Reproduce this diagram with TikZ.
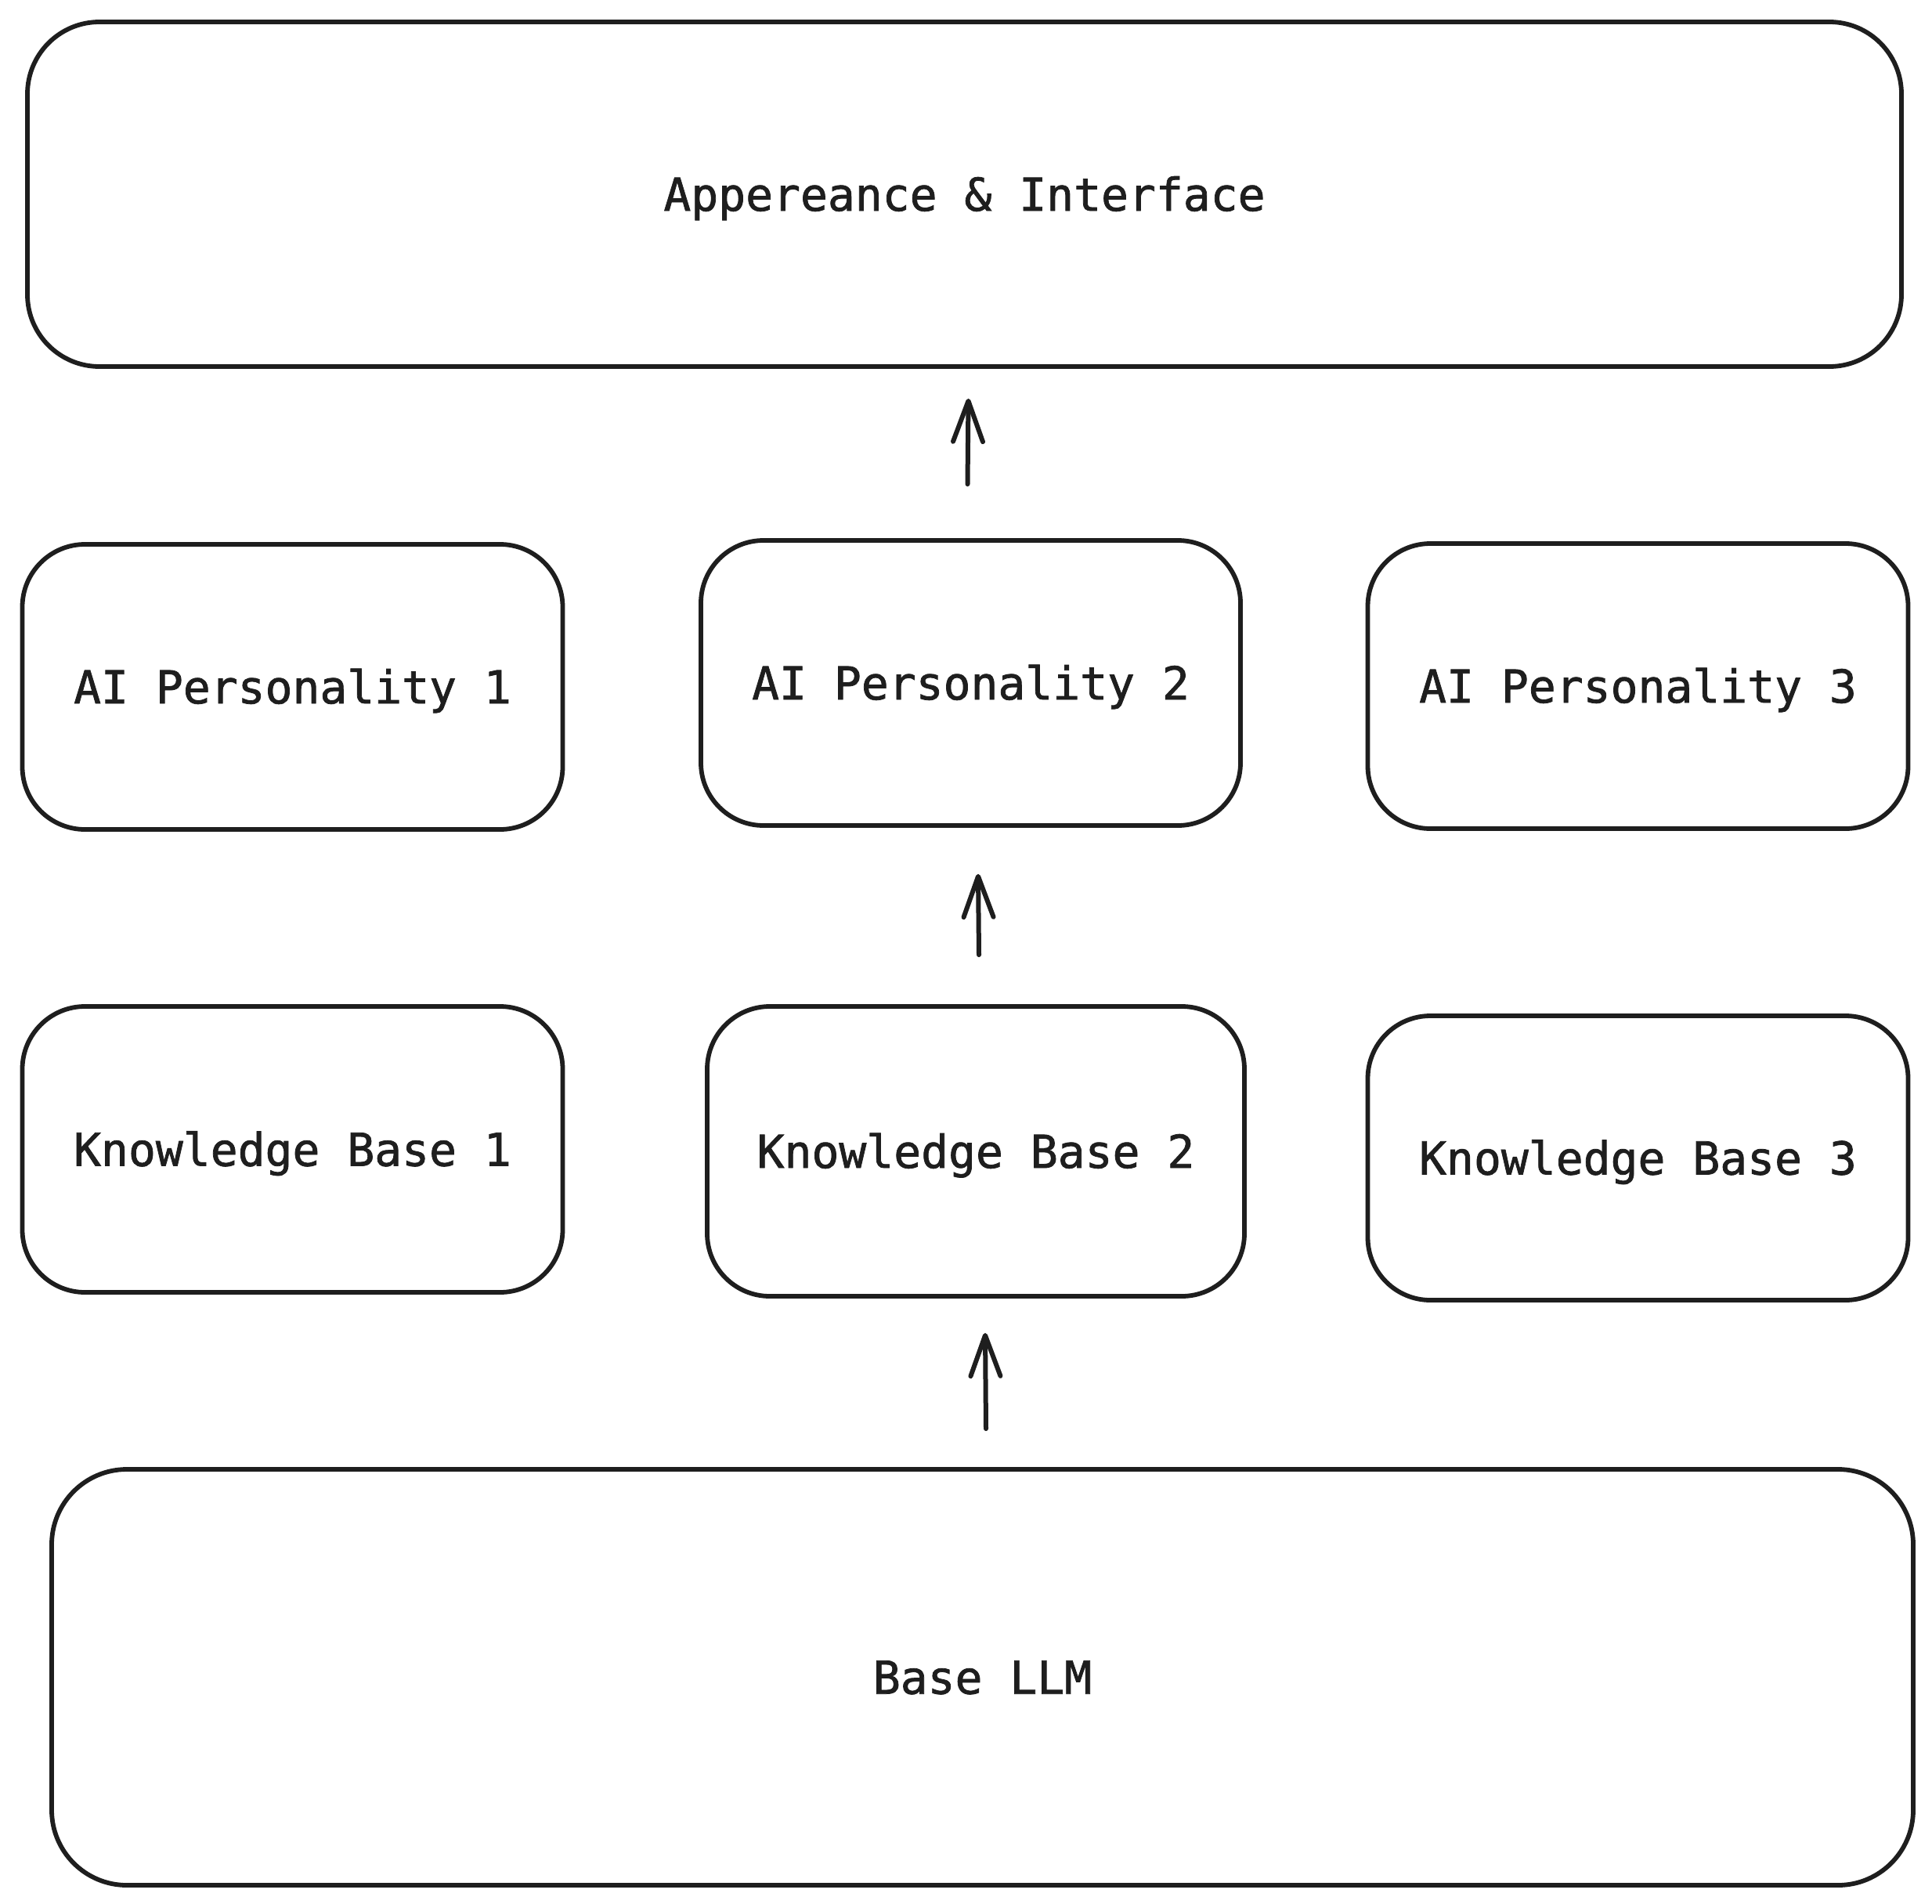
\documentclass[tikz,border=0pt]{standalone}
\usepackage{fontspec}
\setmonofont[FakeBold=1.3]{DejaVu Sans Mono}
\usetikzlibrary{arrows.meta,calc}
\definecolor{ink}{HTML}{1E1E1E}
\begin{document}
\begin{tikzpicture}[x=1pt,y=-1pt,
  box/.style={draw=ink, line width=2.9pt, rounded corners=40pt,
    minimum width=345pt, minimum height=182pt, inner sep=0pt,
    text height=21.1pt, text depth=0pt,
    font=\ttfamily\fontsize{29}{34}\selectfont, text=ink},
  arr/.style={draw=ink, line width=3pt, line cap=round,
    -{Straight Barb[length=26pt,width=19pt,line cap=round,line join=round]}}]
\useasboundingbox (0,0) rectangle (1233.5,1215);
\fill[white] (0,0) rectangle (1233.5,1215);
\node[box, minimum width=1196.5pt, minimum height=220pt, rounded corners=46pt] (top) at (615.75,124) {Appereance \& Interface};
\node[box] (p1) at (186.75,438.5) {AI Personality 1};
\node[box, minimum width=344.5pt] (p2) at (619.75,436) {AI Personality 2};
\node[box] (p3) at (1045.75,438) {AI Personality 3};
\node[box, minimum height=182.5pt] (k1) at (186.75,733.75) {Knowledge Base 1};
\node[box, minimum width=343pt, minimum height=185pt] (k2) at (623,735) {Knowledge Base 2};
\node[box, minimum height=181.5pt] (k3) at (1045.75,739.25) {Knowledge Base 3};
\node[box, minimum width=1188.5pt, minimum height=265.5pt, rounded corners=48pt] (llm) at (627.25,1070.75) {Base LLM};
\draw[arr] ($(p2.north)+(-2,-34.5)$) -- ($(p2.north |- top.south)+(-1.5,19)$);
\draw[arr] ($(k2.north)+(2,-31.5)$) -- ($(k2.north |- p2.south)+(1.5,29.5)$);
\draw[arr] ($(llm.north)+(2.25,-24.5)$) -- ($(llm.north |- k2.south)+(1.75,22)$);
\end{tikzpicture}
\end{document}
